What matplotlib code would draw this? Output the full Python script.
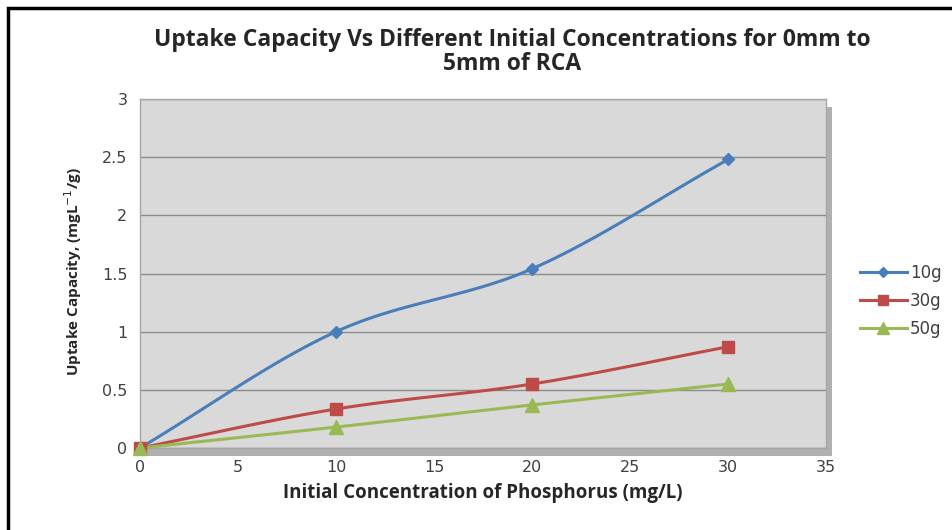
import numpy as np
import matplotlib
matplotlib.use("Agg")
import matplotlib.pyplot as plt
from matplotlib.patches import Rectangle
from matplotlib.lines import Line2D

concentration = [0, 10, 20, 30]
series_names = ["10g", "30g", "50g"]
uptake_10g = [0.0, 1.0, 1.54, 2.48]
uptake_30g = [0.0, 0.335, 0.55, 0.87]
uptake_50g = [0.0, 0.18, 0.37, 0.55]
x_ticks = [0, 5, 10, 15, 20, 25, 30, 35]
y_ticks = [0, 0.5, 1, 1.5, 2, 2.5, 3]

colors = ["#4a7ebb", "#be4b48", "#98b954"]
markers = ["D", "s", "^"]
msizes = [6, 9, 10]


def smooth(x, y, n=40):
    # Catmull-Rom style smoothing (like Excel's smoothed line)
    x = np.asarray(x, float); y = np.asarray(y, float)
    px = np.concatenate([[2 * x[0] - x[1]], x, [2 * x[-1] - x[-2]]])
    py = np.concatenate([[2 * y[0] - y[1]], y, [2 * y[-1] - y[-2]]])
    xs, ys = [], []
    t = np.linspace(0, 1, n)
    for i in range(1, len(px) - 2):
        p0x, p1x, p2x, p3x = px[i - 1:i + 3]
        p0y, p1y, p2y, p3y = py[i - 1:i + 3]
        for (a, b, c, d, out) in ((p0x, p1x, p2x, p3x, xs), (p0y, p1y, p2y, p3y, ys)):
            out.extend(0.5 * ((2 * b) + (-a + c) * t + (2 * a - 5 * b + 4 * c - d) * t**2
                              + (-a + 3 * b - 3 * c + d) * t**3))
    return np.array(xs), np.array(ys)


fig = plt.figure(figsize=(9.53, 5.30), dpi=100)
fig.patch.set_facecolor("white")

# outer black frame
fig.patches.append(Rectangle((8 / 953, -0.05), 1.2, 1.05 - 8 / 530, transform=fig.transFigure,
                             fill=False, edgecolor="black", linewidth=2.5))

# shadow of plot area (separate background axes)
shadow = fig.add_axes([146 / 953, 1 - 456 / 530, 686 / 953, 349 / 530], zorder=0)
shadow.set_facecolor("#b0b0b0")
shadow.set_xticks([]); shadow.set_yticks([])
for s in shadow.spines.values():
    s.set_visible(False)

ax = fig.add_axes([140 / 953, 1 - 448 / 530, 686 / 953, 349 / 530], zorder=1)
ax.set_facecolor("#d9d9d9")
ax.set_xlim(0, 35)
ax.set_ylim(0, 3)
ax.set_xticks(x_ticks)
ax.set_yticks(y_ticks)
ax.set_xticklabels([str(v) for v in x_ticks], family="DejaVu Sans")
ax.set_yticklabels([("%g" % v) for v in y_ticks], family="DejaVu Sans")
ax.grid(axis="y", color="#8c8c8c", linewidth=1)
ax.set_axisbelow(True)
for s in ax.spines.values():
    s.set_color("#a6a6a6")
    s.set_linewidth(1)
ax.tick_params(length=0, labelsize=11.5, colors="#404040", pad=9)

all_series = [uptake_10g, uptake_30g, uptake_50g]
for vals, c, m, ms in zip(all_series, colors, markers, msizes):
    sx, sy = smooth(concentration, vals)
    ax.plot(sx, sy, color=c, linewidth=2.2, clip_on=False, zorder=3)
    ax.plot(concentration, vals, linestyle="none", marker=m, markersize=ms,
            color=c, markeredgecolor=c, clip_on=False, zorder=4)

fig.text(512 / 953, 1 - 40 / 530, "Uptake Capacity Vs Different Initial Concentrations for 0mm to",
         ha="center", va="center", fontsize=16.5, fontweight="bold", family="Open Sans",
         color="#262626")
fig.text(512 / 953, 1 - 64 / 530, "5mm of RCA",
         ha="center", va="center", fontsize=16.5, fontweight="bold", family="Open Sans",
         color="#262626")
fig.text(483 / 953, 1 - 493 / 530, "Initial Concentration of Phosphorus (mg/L)",
         ha="center", va="center", fontsize=13.5, fontweight="bold", family="Open Sans",
         color="#262626")
fig.text(73 / 953, 1 - 272 / 530, "Uptake Capacity, (mgL$^{-1}$/g)",
         ha="center", va="center", rotation=90, fontsize=11, fontweight="bold",
         family="Open Sans", color="#262626")

handles = [Line2D([0], [0], color=c, marker=m, markersize=ms * 0.8, linewidth=2.2)
           for c, m, ms in zip(colors, markers, msizes)]
fig.legend(handles, series_names, loc="center left", bbox_to_anchor=(845 / 953, 1 - 301 / 530),
           frameon=False, fontsize=12, handlelength=2.8, labelspacing=0.6,
           handletextpad=0.2, labelcolor="#404040", prop={"family": "DejaVu Sans", "size": 12})

fig.savefig("out.png", dpi=100, facecolor="white")
